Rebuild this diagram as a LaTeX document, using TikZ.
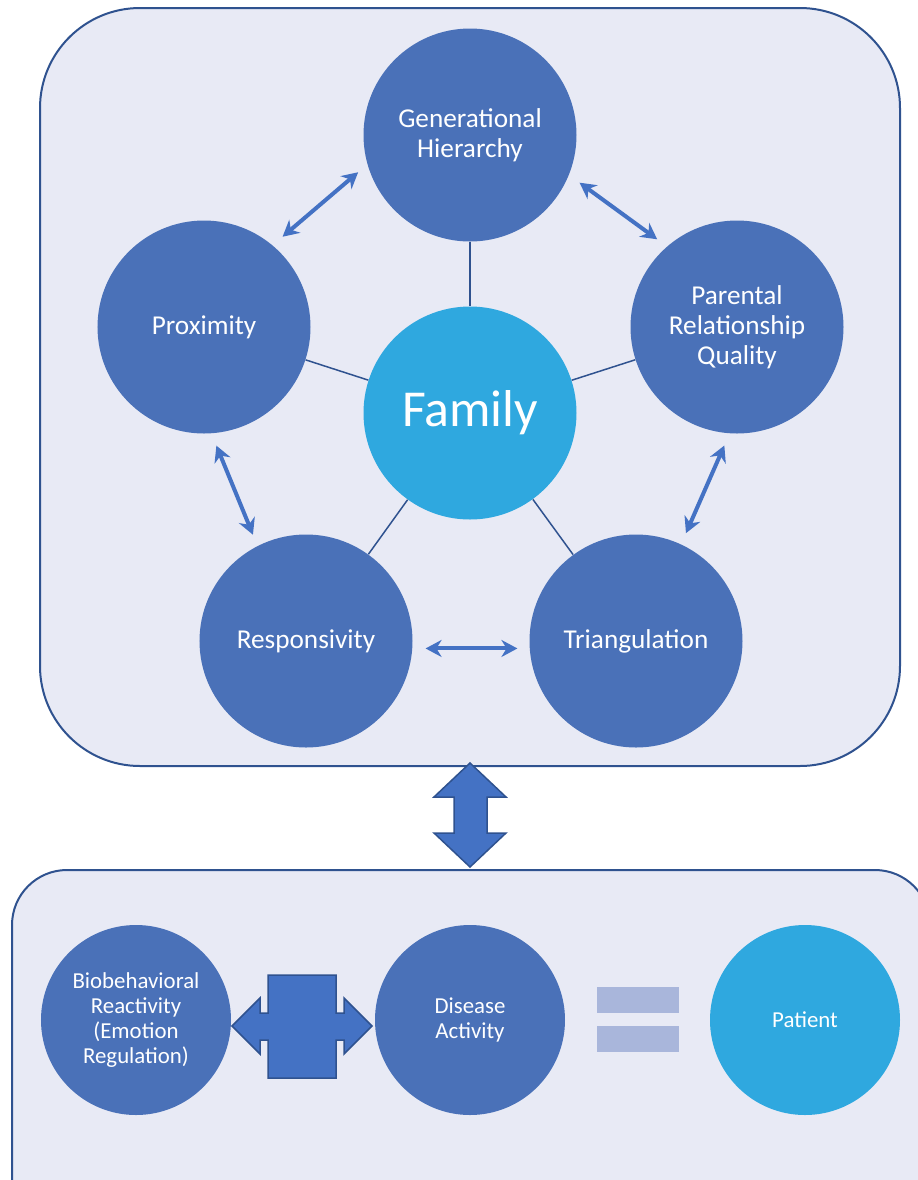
\documentclass[tikz,border=0pt]{standalone}
\usepackage{fontspec}
\setmainfont{Carlito}
\usetikzlibrary{arrows.meta}

\definecolor{panelfill}{HTML}{E8EAF5}
\definecolor{panelline}{HTML}{2F528F}
\definecolor{circblue}{HTML}{4A71B8}
\definecolor{skyblue}{HTML}{2FA8DF}
\definecolor{arrowblue}{HTML}{4472C4}
\definecolor{barblue}{HTML}{A9B6DB}

\tikzset{
  panel/.style={draw=panelline, line width=0.4mm, fill=panelfill},
  bubble/.style={circle, fill=circblue, text=white, inner sep=0pt,
    minimum size=42.6mm, align=center, font=\fontsize{15.5}{17}\selectfont},
  smallbubble/.style={bubble, minimum size=38mm, font=\fontsize{13}{14.2}\selectfont},
  spoke/.style={draw=panelline, line width=0.3mm},
  dbl/.style={draw=arrowblue, line width=0.8mm,
    {Stealth[length=3.2mm,width=3.4mm]}-{Stealth[length=3.2mm,width=3.4mm]},
    shorten <=2.6mm, shorten >=2.4mm},
  blockarrow/.style={draw=panelline, line width=0.3mm, fill=arrowblue},
}

\begin{document}
\begin{tikzpicture}[x=0.2mm, y=-0.2mm]
  \useasboundingbox (0,0) rectangle (918,1180);
  \clip (0,0) rectangle (918,1180);

  % Panels
  \draw[panel, rounded corners=20mm] (40,8) rectangle (900,766);
  \draw[panel, rounded corners=11mm] (12,870) rectangle (930,1240);

  % Family circles
  \node[bubble] (gen) at (470,135) {Generational\\Hierarchy};
  \node[bubble] (prox) at (204,327) {Proximity};
  \node[bubble] (par) at (737,327) {Parental\\Relationship\\Quality};
  \node[bubble] (resp) at (306,641) {Responsivity};
  \node[bubble] (tri) at (636,641) {Triangulation};
  \node[bubble, fill=skyblue, font=\fontsize{29.5}{32}\selectfont]
     (fam) at (470,413) {Family};

  % Spokes
  \draw[spoke] (fam) -- (gen);
  \draw[spoke] (fam) -- (prox);
  \draw[spoke] (fam) -- (par);
  \draw[spoke] (fam) -- (resp);
  \draw[spoke] (fam) -- (tri);

  % Arrows round the ring
  \draw[dbl] (prox.50) -- (gen.196);
  \draw[dbl] (gen.338) -- (par.131);
  \draw[dbl] (prox.274) -- (resp.117);
  \draw[dbl] (par.266) -- (tri.65);
  \draw[dbl] (resp.-4) -- (tri.184);

  % Link between panels
  \draw[blockarrow]
     (470,763) -- (506,797) -- (487,797) -- (487,833) -- (506,833)
     -- (470,867) -- (434,833) -- (454,833) -- (454,797) -- (434,797) -- cycle;

  % Bottom row
  \node[smallbubble] (bio) at (136,1020) {Biobehavioral\\Reactivity\\(Emotion\\Regulation)};
  \node[smallbubble] (dis) at (470,1020) {Disease\\Activity};
  \node[smallbubble, fill=skyblue] (pat) at (805,1020) {Patient};

  % Cross arrow
  \draw[blockarrow]
     (232,1026) -- (260,998) -- (260,1013) -- (268,1013) -- (268,975)
     -- (336,975) -- (336,1013) -- (344,1013) -- (344,998) -- (372,1026)
     -- (344,1054) -- (344,1040) -- (336,1040) -- (336,1078) -- (268,1078)
     -- (268,1040) -- (260,1040) -- (260,1054) -- cycle;

  % Equals sign
  \fill[barblue] (597,987) rectangle (679,1013);
  \fill[barblue] (597,1026) rectangle (679,1052);
\end{tikzpicture}
\end{document}
